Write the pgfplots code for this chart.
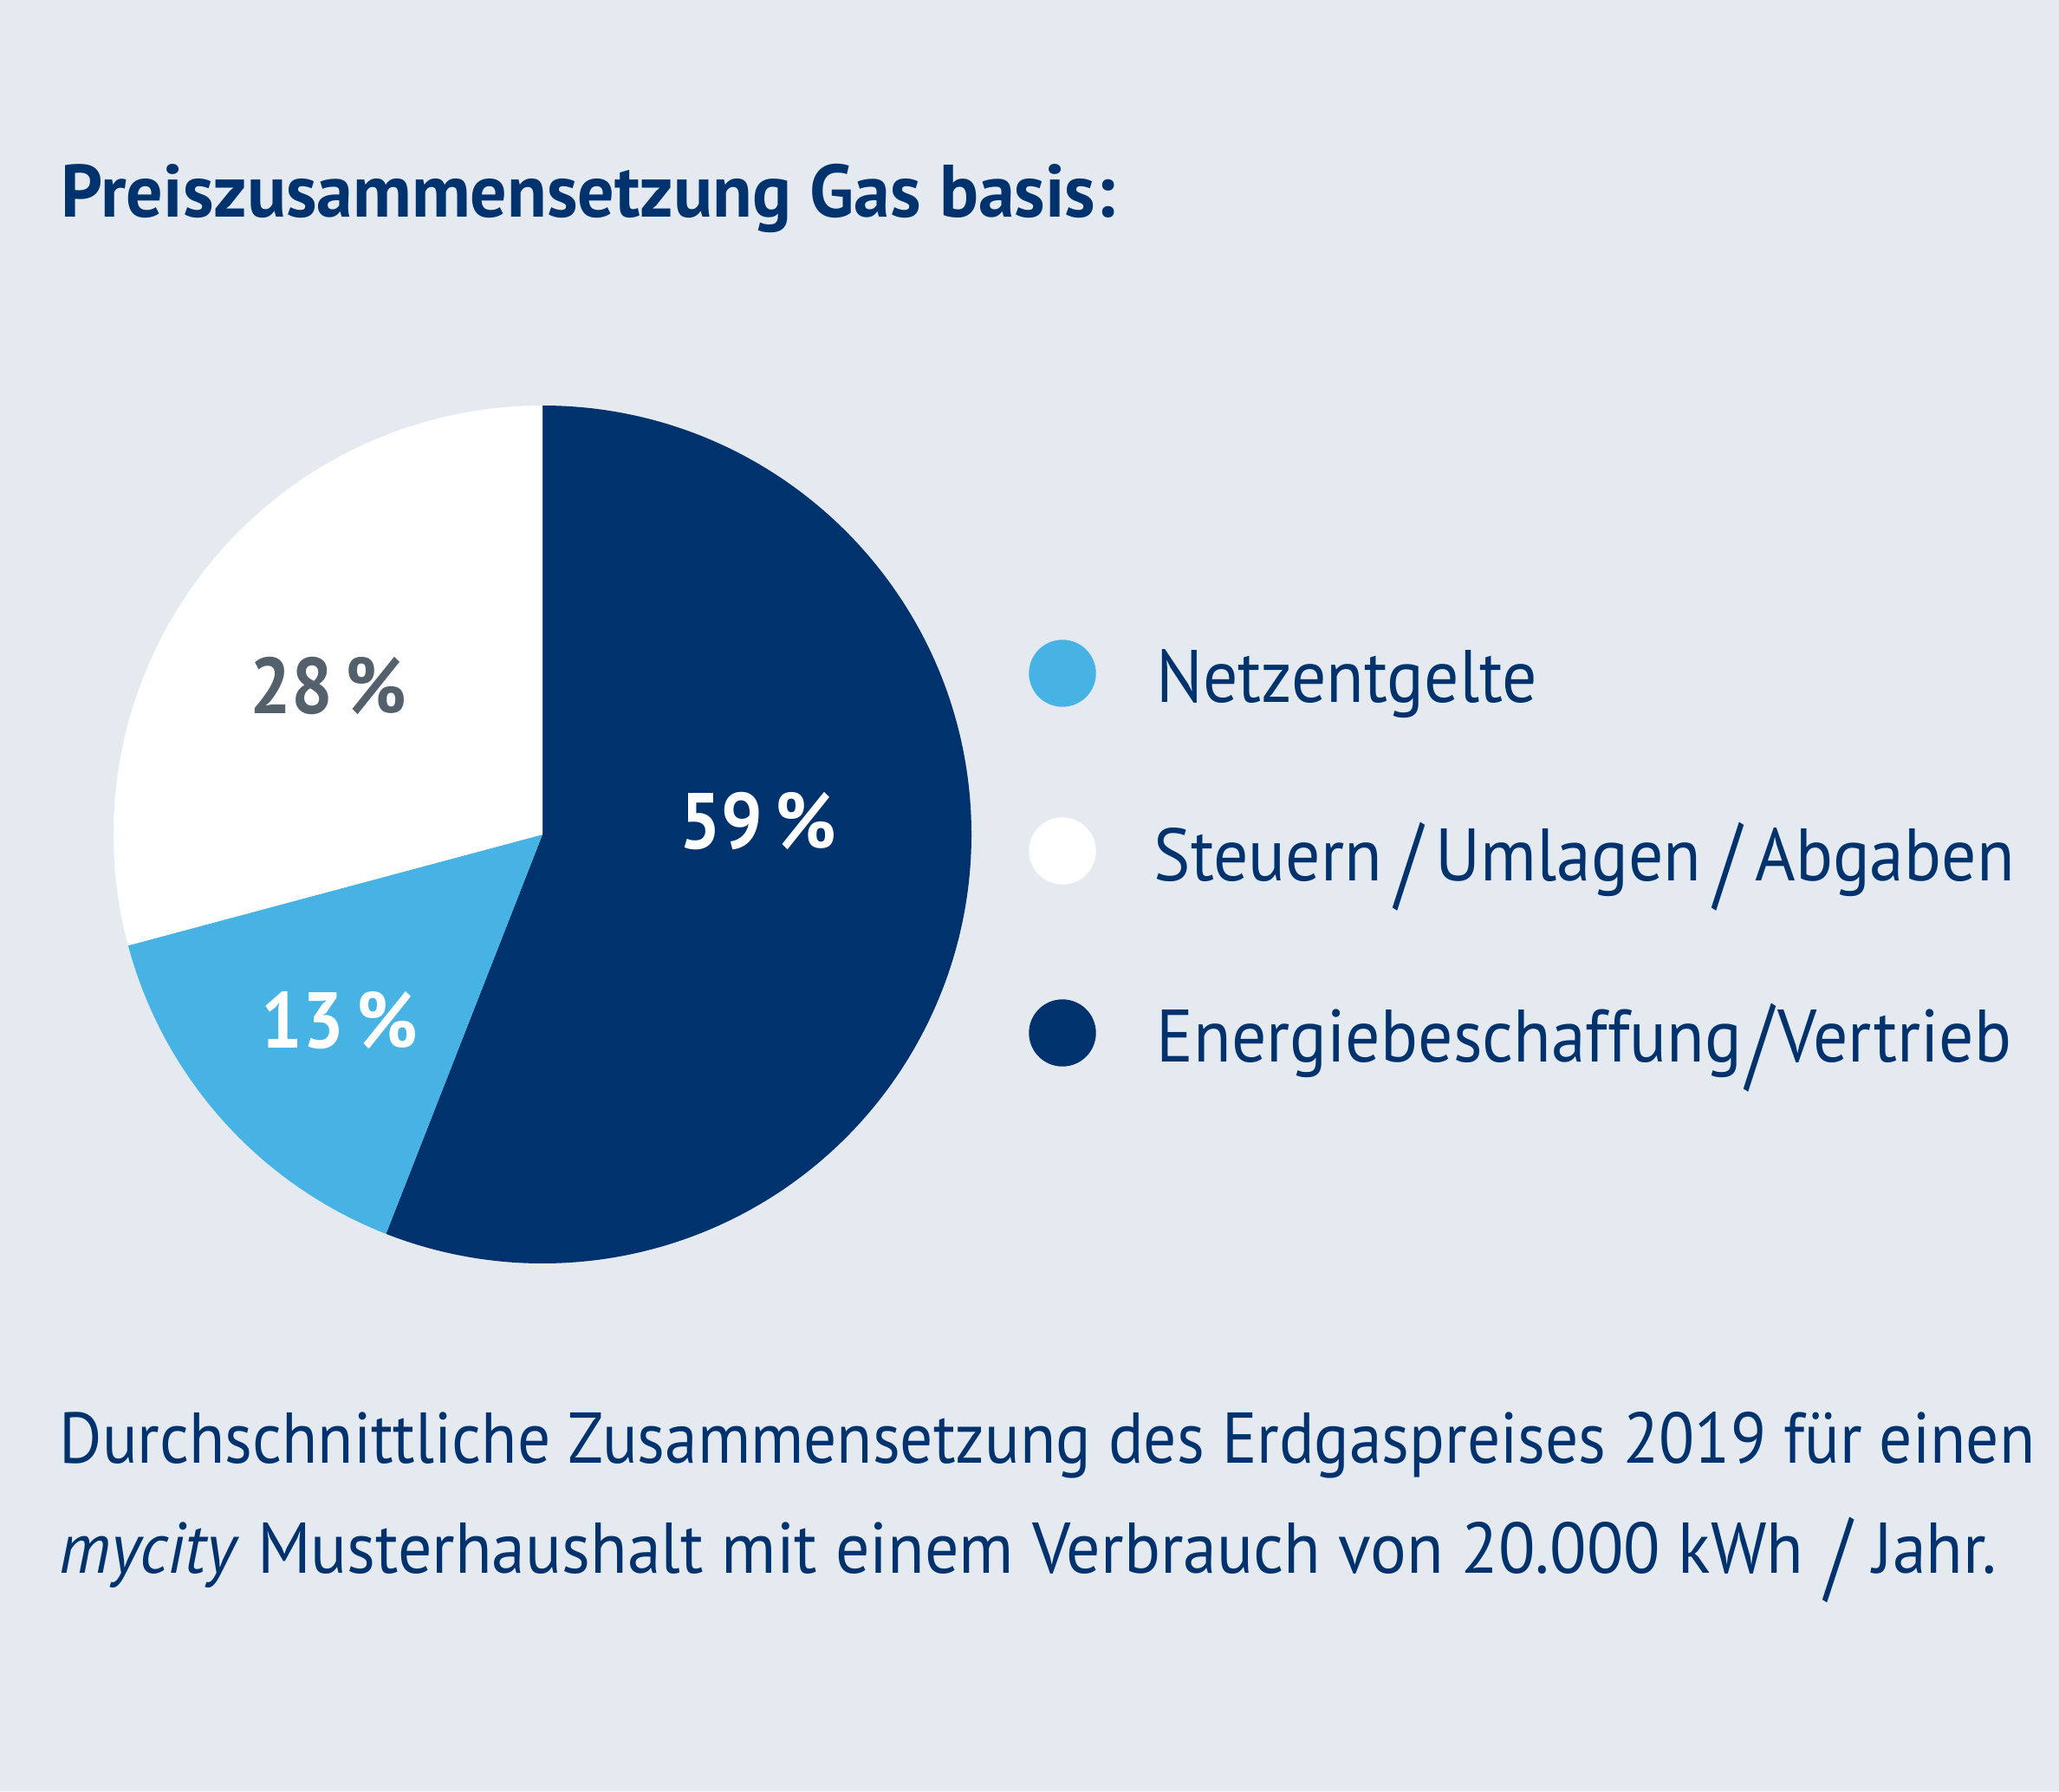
\documentclass[border=0pt]{standalone}
\usepackage{pgfplots}
\pgfplotsset{compat=1.18}
\usepackage{fontspec}
\setmainfont{PT Sans}[FakeStretch=0.93]
\newfontfamily\titlefont{PT Sans}[FakeStretch=0.98]
\newfontfamily\capfont{PT Sans}[FakeStretch=0.91]
\newfontfamily\capfontb{PT Sans}[FakeStretch=0.94]
\newfontfamily\labfont{PT Sans}[FakeStretch=0.92]
\definecolor{navy}{RGB}{0,51,109}
\definecolor{lightblue}{RGB}{71,179,228}
\definecolor{bgcol}{RGB}{229,234,241}
\definecolor{greylab}{RGB}{84,96,108}
\newcommand{\lslash}{\raisebox{-0.22em}{\scalebox{1.1}[1.4]{/}}}
\begin{document}
\begin{tikzpicture}
\begin{axis}[
  width=23.76cm, height=20.67cm, scale only axis,
  xmin=0, xmax=2376, ymin=0, ymax=2067, y dir=reverse,
  hide axis, clip=false]
\fill[bgcol] (axis cs:0,0) rectangle (axis cs:2376,2067);
% pie: drawn shares (degrees) of the circle
\def\pieR{49.5mm}
\fill[navy] (axis cs:626,963) -- ++(90:\pieR) arc[start angle=90, delta angle=-201.4, radius=\pieR] -- cycle;
\fill[lightblue] (axis cs:626,963) -- ++(-111.4:\pieR) arc[start angle=-111.4, delta angle=-53.6, radius=\pieR] -- cycle;
\fill[white] (axis cs:626,963) -- ++(-165:\pieR) arc[start angle=-165, delta angle=-105, radius=\pieR] -- cycle;
% legend markers
\addplot[only marks, mark=*, mark size=3.8mm, mark options={fill=lightblue, draw=lightblue}] coordinates {(1226,777)};
\addplot[only marks, mark=*, mark size=3.8mm, mark options={fill=white, draw=white}] coordinates {(1226,982)};
\addplot[only marks, mark=*, mark size=3.8mm, mark options={fill=navy, draw=navy}] coordinates {(1226,1192)};
% title
\node[anchor=base west, inner sep=0, text=navy, font=\titlefont\bfseries\fontsize{24.4pt}{29pt}\selectfont] at (axis cs:70,250) {Preiszusammensetzung Gas basis:};
% pie labels
\node[anchor=base, inner sep=0, text=white, font=\labfont\bfseries\fontsize{26pt}{30pt}\selectfont] at (axis cs:875,979) {59\,\%};
\node[anchor=base, inner sep=0, text=greylab, font=\labfont\bfseries\fontsize{26pt}{30pt}\selectfont] at (axis cs:379,823) {28\,\%};
\node[anchor=base, inner sep=0, text=white, font=\labfont\bfseries\fontsize{26pt}{30pt}\selectfont] at (axis cs:392,1209) {13\,\%};
% legend text
\node[anchor=base west, inner sep=0, text=navy, font=\fontsize{24.4pt}{29pt}\selectfont] at (axis cs:1334,810) {Netzentgelte};
\node[anchor=base west, inner sep=0, text=navy, font=\fontsize{24.4pt}{29pt}\selectfont] at (axis cs:1331,1016) {Steuern\hspace{0.18em}\lslash\hspace{0.18em}Umlagen\hspace{0.18em}\lslash\hspace{0.18em}Abgaben};
\node[anchor=base west, inner sep=0, text=navy, font=\fontsize{24.4pt}{29pt}\selectfont] at (axis cs:1334,1225) {Energiebeschaffung\hspace{0.06em}\lslash\hspace{0.06em}Vertrieb};
% caption
\node[anchor=base west, inner sep=0, text=navy, font=\capfont\fontsize{23.6pt}{28pt}\selectfont] at (axis cs:68,1688) {Durchschnittliche Zusammensetzung des Erdgaspreises 2019 für einen};
\node[anchor=base west, inner sep=0, text=navy, font=\capfontb\fontsize{23.6pt}{28pt}\selectfont] at (axis cs:68,1815) {\textit{mycity} Musterhaushalt mit einem Verbrauch von 20.000 kWh\hspace{0.3em}\lslash\hspace{0.3em}Jahr.};
\end{axis}
\end{tikzpicture}
\end{document}
